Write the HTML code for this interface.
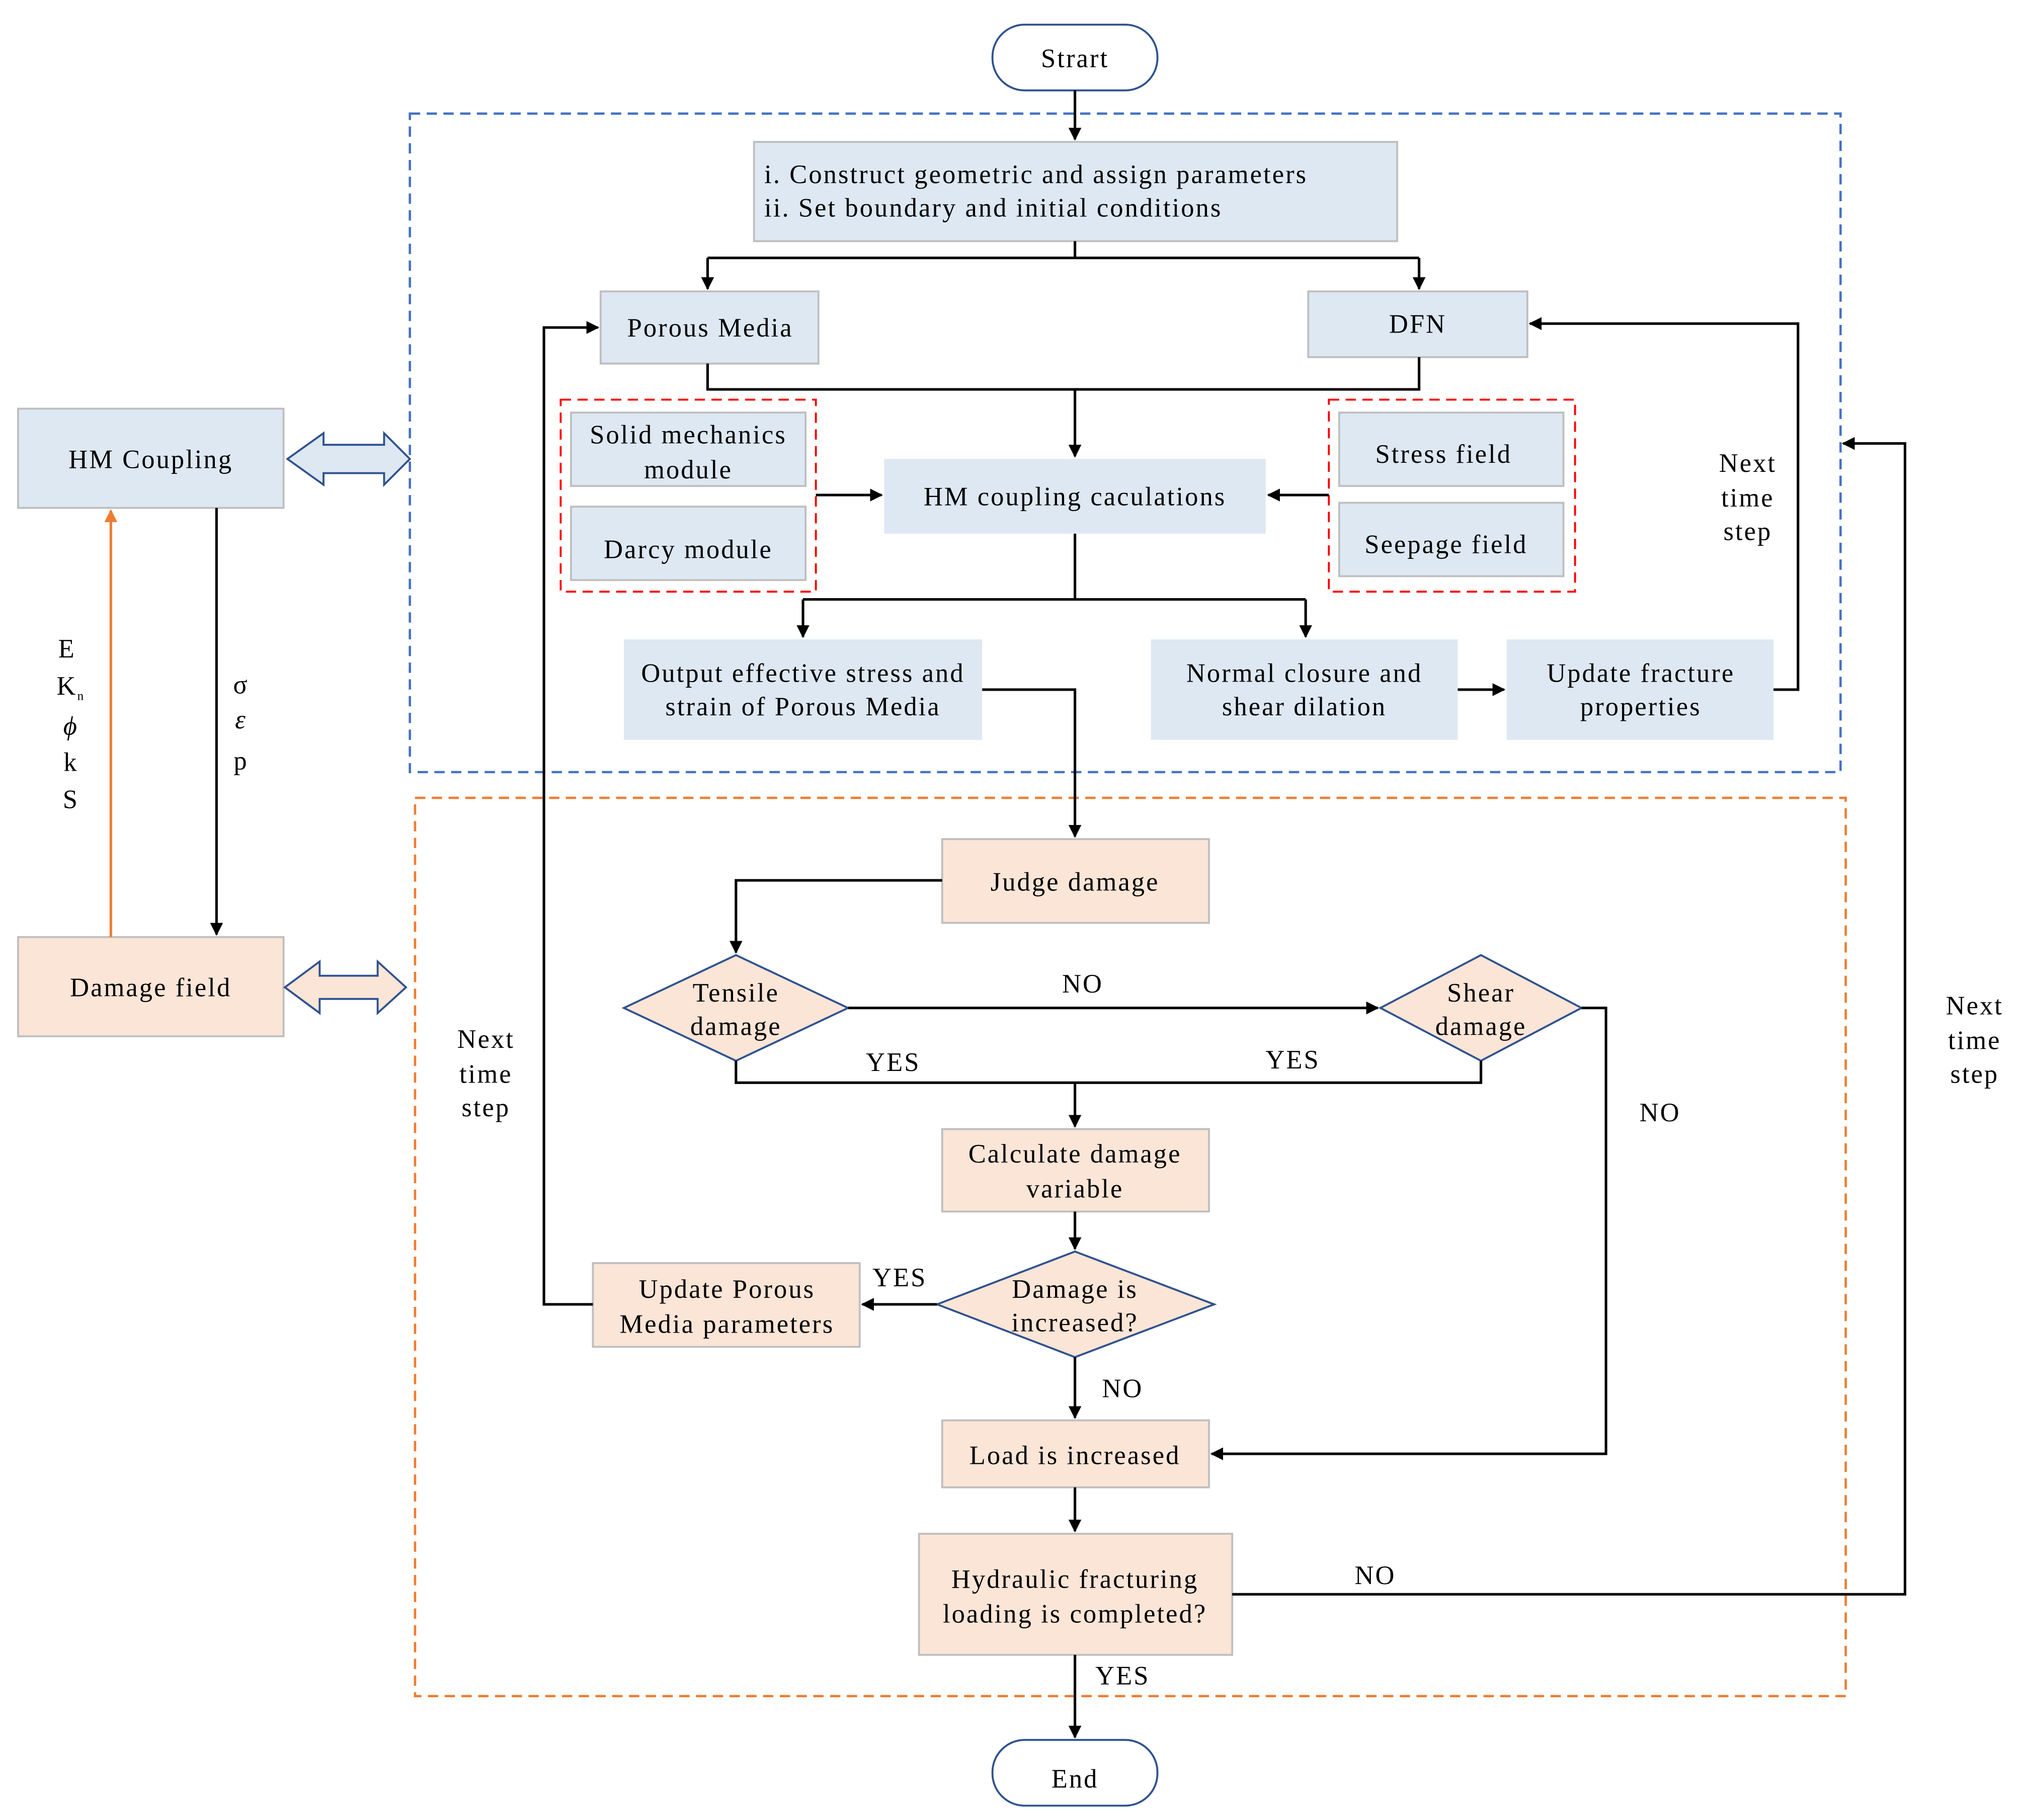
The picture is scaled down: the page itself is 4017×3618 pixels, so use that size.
<!DOCTYPE html>
<html><head><meta charset="utf-8"><style>
html,body{margin:0;padding:0;background:#fff;width:4017px;height:3618px;overflow:hidden}
svg{display:block}
text{font-family:"Liberation Serif",serif;font-size:20.5px;letter-spacing:1.2px;fill:#000}
</style></head><body>
<svg width="4017" height="3618" viewBox="0 0 1568 1412" xmlns="http://www.w3.org/2000/svg">
<defs>
<marker id="a" markerWidth="10" markerHeight="10" refX="9" refY="5" orient="auto" markerUnits="userSpaceOnUse"><path d="M0,0 L10,5 L0,10 z" fill="#000"/></marker>
<marker id="o" markerWidth="10" markerHeight="10" refX="9" refY="5" orient="auto" markerUnits="userSpaceOnUse"><path d="M0,0 L10,5 L0,10 z" fill="#ED7D31"/></marker>
</defs>
<g fill="none" stroke-width="1.8" stroke-dasharray="8,5">
<rect x="318" y="88" width="1110" height="511" stroke="#4472C4"/>
<rect x="322" y="619" width="1110" height="697" stroke="#ED7D31"/>
<rect x="435" y="310" width="198" height="149" stroke="#FF0000" stroke-width="1.5"/>
<rect x="1031" y="310" width="191" height="149" stroke="#FF0000" stroke-width="1.5"/>
</g>
<g stroke="#bfbfbf" stroke-width="1.5">
<g fill="#dde8f3">
<rect x="585" y="110" width="499" height="77"/>
<rect x="466" y="226" width="169" height="56"/>
<rect x="1015" y="226" width="170" height="51"/>
<rect x="686" y="356" width="296" height="58" stroke="none"/>
<rect x="443" y="320" width="182" height="57"/>
<rect x="443" y="393" width="182" height="57"/>
<rect x="1039" y="320" width="174" height="57"/>
<rect x="1039" y="390" width="174" height="57"/>
<rect x="484" y="496" width="278" height="78" stroke="none"/>
<rect x="893" y="496" width="238" height="78" stroke="none"/>
<rect x="1169" y="496" width="207" height="78" stroke="none"/>
<rect x="14" y="317" width="206" height="77"/>
</g>
<g fill="#fbe5d6">
<rect x="731" y="651" width="207" height="65"/>
<rect x="731" y="876" width="207" height="64"/>
<rect x="460" y="980" width="207" height="65"/>
<rect x="731" y="1102" width="207" height="52"/>
<rect x="713" y="1190" width="243" height="94"/>
<rect x="14" y="727" width="206" height="77"/>
</g>
</g>
<g stroke="#2F528F" stroke-width="1.5">
<rect x="770" y="19" width="128" height="51" rx="25" fill="#fff"/>
<rect x="770" y="1350" width="128" height="51" rx="25" fill="#fff"/>
<g fill="#fbe5d6">
<polygon points="484,782 571,741 658,782 571,823"/>
<polygon points="1071,782 1149,741 1227,782 1149,823"/>
<polygon points="727,1012 834,971 942,1012 834,1053"/>
</g>
<polygon points="223,356 251,336 251,345 298,345 298,336 318,356 298,376 298,367 251,367 251,376" fill="#dde8f3"/>
<polygon points="221,766 248,746 248,757 293,757 293,746 315,766 293,786 293,775 248,775 248,786" fill="#fbe5d6"/>
</g>
<g fill="none" stroke="#000" stroke-width="2">
<path d="M834,70 V108" marker-end="url(#a)"/>
<path d="M834,187 V200 M549,200 H1101"/>
<path d="M549,200 V224" marker-end="url(#a)"/>
<path d="M1101,200 V224" marker-end="url(#a)"/>
<path d="M549,282 V302 H1101 V277"/>
<path d="M834,302 V354" marker-end="url(#a)"/>
<path d="M633,384 H684" marker-end="url(#a)"/>
<path d="M1031,384 H984" marker-end="url(#a)"/>
<path d="M834,414 V465 M623,465 H1013"/>
<path d="M623,465 V494" marker-end="url(#a)"/>
<path d="M1013,465 V494" marker-end="url(#a)"/>
<path d="M1131,535 H1167" marker-end="url(#a)"/>
<path d="M1376,535 H1395 V251 H1187" marker-end="url(#a)"/>
<path d="M762,535 H834 V649" marker-end="url(#a)"/>
<path d="M731,683 H571 V739" marker-end="url(#a)"/>
<path d="M658,782 H1069" marker-end="url(#a)"/>
<path d="M571,823 V840 H1149 V823"/>
<path d="M834,840 V874" marker-end="url(#a)"/>
<path d="M1227,782 H1246 V1128 H940" marker-end="url(#a)"/>
<path d="M834,940 V969" marker-end="url(#a)"/>
<path d="M727,1012 H669" marker-end="url(#a)"/>
<path d="M460,1012 H422 V254 H464" marker-end="url(#a)"/>
<path d="M834,1053 V1100" marker-end="url(#a)"/>
<path d="M834,1154 V1188" marker-end="url(#a)"/>
<path d="M956,1237 H1478 V344 H1430" marker-end="url(#a)"/>
<path d="M834,1284 V1348" marker-end="url(#a)"/>
<path d="M168,394 V725" marker-end="url(#a)"/>
</g>
<path d="M86,727 V396" stroke="#ED7D31" stroke-width="2" fill="none" marker-end="url(#o)"/>
<g text-anchor="middle">
<text x="834" y="52">Strart</text>
<text x="834" y="1387">End</text>
<text x="551" y="261">Porous Media</text>
<text x="1100" y="258">DFN</text>
<text x="534" y="344">Solid mechanics</text>
<text x="534" y="371">module</text>
<text x="534" y="433">Darcy module</text>
<text x="834" y="392">HM coupling caculations</text>
<text x="1120" y="359">Stress field</text>
<text x="1122" y="429">Seepage  field</text>
<text x="623" y="529">Output effective stress and</text>
<text x="623" y="555">strain of Porous Media</text>
<text x="1012" y="529">Normal closure and</text>
<text x="1012" y="555">shear dilation</text>
<text x="1273" y="529">Update fracture</text>
<text x="1273" y="555">properties</text>
<text x="1356" y="366">Next</text>
<text x="1356" y="393">time</text>
<text x="1356" y="419">step</text>
<text x="834" y="691">Judge damage</text>
<text x="571" y="777">Tensile</text>
<text x="571" y="803">damage</text>
<text x="1149" y="777">Shear</text>
<text x="1149" y="803">damage</text>
<text x="840" y="770">NO</text>
<text x="693" y="831">YES</text>
<text x="1003" y="829">YES</text>
<text x="1288" y="870">NO</text>
<text x="834" y="902">Calculate damage</text>
<text x="834" y="929">variable</text>
<text x="834" y="1007">Damage is</text>
<text x="834" y="1033">increased?</text>
<text x="564" y="1007">Update Porous</text>
<text x="564" y="1034">Media parameters</text>
<text x="698" y="998">YES</text>
<text x="377" y="813">Next</text>
<text x="377" y="840">time</text>
<text x="377" y="866">step</text>
<text x="871" y="1084">NO</text>
<text x="834" y="1136">Load is increased</text>
<text x="834" y="1232">Hydraulic fracturing</text>
<text x="834" y="1259">loading is completed?</text>
<text x="1067" y="1229">NO</text>
<text x="871" y="1307">YES</text>
<text x="1532" y="787">Next</text>
<text x="1532" y="814">time</text>
<text x="1532" y="840">step</text>
<text x="117" y="363">HM Coupling</text>
<text x="117" y="773">Damage field</text>
<text x="52" y="510">E</text>
<text x="55" y="539">K<tspan font-size="10" dy="4">n</tspan></text>
<text x="55" y="570" font-style="italic">ϕ</text>
<text x="55" y="598">k</text>
<text x="55" y="627">S</text>
<text x="187" y="538">σ</text>
<text x="187" y="565" font-style="italic">ε</text>
<text x="187" y="597">p</text>
</g>
<text x="593" y="142">i. Construct geometric and assign parameters</text>
<text x="593" y="168">ii. Set boundary and initial conditions</text>
</svg>
</body></html>
